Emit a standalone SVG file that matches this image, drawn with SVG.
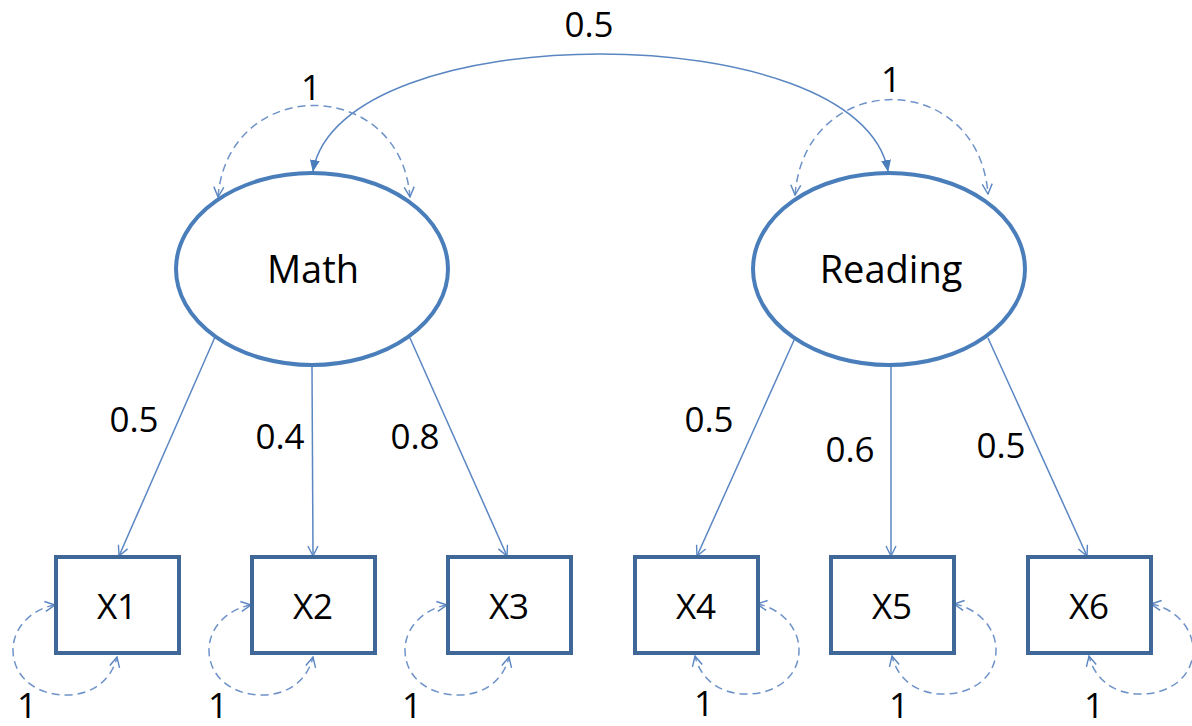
<svg xmlns="http://www.w3.org/2000/svg" width="1192" height="726" viewBox="0 0 1192 726">
<style>
.lat{fill:#fff;stroke:#4a7ebb;stroke-width:4}
.obs{fill:#fff;stroke:#3f6797;stroke-width:4}
.load{fill:none;stroke:#5a86c2;stroke-width:1.5;marker-end:url(#open)}
.cov{fill:none;stroke:#5a86c2;stroke-width:1.5;marker-start:url(#solid);marker-end:url(#solid)}
.var{fill:none;stroke:#6f93c8;stroke-width:1.5;stroke-dasharray:8 5;marker-start:url(#open);marker-end:url(#open)}
text{font-family:"Open Sans","Liberation Sans",sans-serif;font-size:35px;fill:#000;text-anchor:middle}
.big{font-size:38px}
</style>
<defs>
<marker id="open" viewBox="0 0 12 12" refX="11" refY="6" markerWidth="12" markerHeight="12" markerUnits="userSpaceOnUse" orient="auto-start-reverse">
<path d="M1,1 L11,6 L1,11" fill="none" stroke="#5a86c2" stroke-width="1.4"/>
</marker>
<marker id="solid" viewBox="0 0 12 10" refX="11" refY="5" markerWidth="12" markerHeight="10" markerUnits="userSpaceOnUse" orient="auto-start-reverse">
<path d="M0,0 L12,5 L0,10 Z" fill="#4a7ebb"/>
</marker>
</defs>
<g id="connectors">
<path class="cov" d="M 313 171 C 340 15, 860 15, 888 171"/>
<path class="var" d="M 218 197 C 228 75, 400 75, 410 197"/>
<path class="var" d="M 795 195 C 805 68, 978 68, 988 194"/>
<path class="load" d="M 215 337 L 119 556"/>
<path class="load" d="M 312 366 L 313 556"/>
<path class="load" d="M 410 338 L 507 556"/>
<path class="load" d="M 795 338 L 697 556"/>
<path class="load" d="M 891 366 L 891 556"/>
<path class="load" d="M 988 338 L 1087 556"/>
<path class="var" d="M 55 605 C 35 608, 13 625, 13 650 C 13 678, 38 696, 68 695 C 95 694, 112 678, 117 657"/>
<path class="var" d="M 251 605 C 231 608, 209 625, 209 650 C 209 678, 234 696, 264 695 C 291 694, 308 678, 313 657"/>
<path class="var" d="M 447 605 C 427 608, 405 625, 405 650 C 405 678, 430 696, 460 695 C 487 694, 504 678, 509 657"/>
<path class="var" d="M 757 604 C 777 607, 799 625, 799 650 C 799 678, 774 695, 744 694 C 717 693, 700 677, 695 656"/>
<path class="var" d="M 954 604 C 974 607, 996 625, 996 650 C 996 678, 971 695, 941 694 C 914 693, 897 677, 892 656"/>
<path class="var" d="M 1151 604 C 1171 607, 1193 625, 1193 650 C 1193 678, 1168 695, 1138 694 C 1111 693, 1094 677, 1089 656"/>
</g>
<g id="labels">
<text x="589" y="37">0.5</text>
<text x="311" y="100">1</text>
<text x="891" y="92">1</text>
<text x="134" y="432">0.5</text>
<text x="280" y="449">0.4</text>
<text x="415" y="449">0.8</text>
<text x="709" y="432">0.5</text>
<text x="850" y="462">0.6</text>
<text x="1001" y="458">0.5</text>
<text x="27" y="718">1</text>
<text x="218" y="718">1</text>
<text x="412" y="718">1</text>
<text x="704" y="716">1</text>
<text x="899" y="718">1</text>
<text x="1094" y="718">1</text>
</g>
<g id="Math">
<ellipse class="lat" cx="312" cy="269" rx="136" ry="96"/>
<text class="big" x="313" y="283">Math</text>
</g>
<g id="Reading">
<ellipse class="lat" cx="889" cy="269" rx="136" ry="96"/>
<text class="big" x="891" y="283">Reading</text>
</g>
<g id="X1"><rect class="obs" x="56" y="557" width="123" height="96"/><text x="117" y="619">X1</text></g>
<g id="X2"><rect class="obs" x="252" y="557" width="123" height="96"/><text x="313" y="619">X2</text></g>
<g id="X3"><rect class="obs" x="448" y="557" width="123" height="96"/><text x="509" y="619">X3</text></g>
<g id="X4"><rect class="obs" x="635" y="557" width="123" height="96"/><text x="696" y="619">X4</text></g>
<g id="X5"><rect class="obs" x="831" y="557" width="123" height="96"/><text x="892" y="619">X5</text></g>
<g id="X6"><rect class="obs" x="1028" y="557" width="123" height="96"/><text x="1089" y="619">X6</text></g>
</svg>
